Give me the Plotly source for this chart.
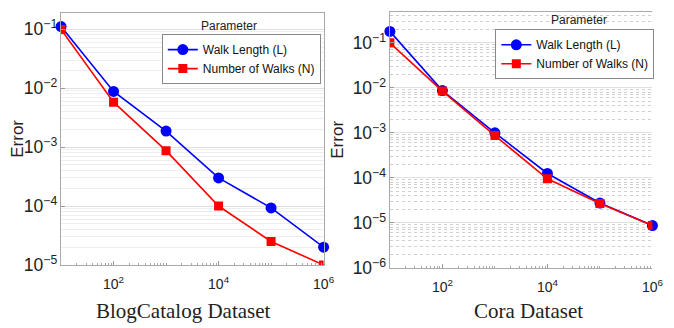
import plotly.graph_objects as go

# ---- data ----
x_vals = [10, 100, 1000, 10000, 100000, 1000000]
blog_walk_length = [0.111, 0.0088, 0.00187, 0.0003, 0.000093, 0.00002]
blog_num_walks = [0.099, 0.0058, 0.00087, 0.0001, 0.000025, 0.00001]
cora_walk_length = [0.18, 0.0087, 0.00100, 0.000125, 0.0000275, 0.0000087]
cora_num_walks = [0.10, 0.0085, 0.00087, 0.000095, 0.000027, 0.0000087]
x_tickvals = [100, 10000, 1000000]
x_ticktext = ["10<sup>2</sup>", "10<sup>4</sup>", "10<sup>6</sup>"]
panel_titles = ["BlogCatalog Dataset", "Cora Dataset"]
series_names = ["Walk Length (L)", "Number of Walks (N)"]

BLUE = "#0000ff"
RED = "#ff0000"

fig = go.Figure()

def add_pair(xa, ya, wl, nw, legend):
    fig.add_trace(go.Scatter(x=x_vals, y=wl, mode="lines+markers", name=series_names[0],
                             line=dict(color=BLUE, width=1.6),
                             marker=dict(symbol="circle", size=11, color=BLUE),
                             xaxis=xa, yaxis=ya, legend=legend, cliponaxis=False))
    fig.add_trace(go.Scatter(x=x_vals, y=nw, mode="lines+markers", name=series_names[1],
                             line=dict(color=RED, width=1.6),
                             marker=dict(symbol="square", size=9, color=RED),
                             xaxis=xa, yaxis=ya, legend=legend, cliponaxis=True))

add_pair("x", "y", blog_walk_length, blog_num_walks, "legend")
add_pair("x2", "y2", cora_walk_length, cora_num_walks, "legend2")

FONT = "Liberation Sans, Arial"
tickfont = dict(family=FONT, size=14, color="#222222")
common_x = dict(type="log", tickvals=x_tickvals, ticktext=x_ticktext, tickfont=tickfont,
                showgrid=False, zeroline=False, ticks="inside", ticklen=4, tickcolor="#999999",
                ticklabelstandoff=6, ticklabeloverflow="allow",
                minor=dict(dtick="D1", ticks="inside", ticklen=2, tickcolor="#aaaaaa"),
                showline=True, linecolor="#aaaaaa")
common_y = dict(type="log", dtick=1, exponentformat="power", tickfont=tickfont,
                showgrid=True, gridcolor="#e0e0e0", gridwidth=1, zeroline=False,
                ticks="inside", ticklen=4, tickcolor="#999999",
                showline=True, linecolor="#aaaaaa",
                title=dict(text="Error", font=dict(family=FONT, size=17, color="#222222"), standoff=4))

fig.update_layout(
    width=674, height=328,
    margin=dict(l=0, r=0, t=0, b=0),
    plot_bgcolor="white", paper_bgcolor="white",
    xaxis=dict(domain=[0.080, 0.476], range=[1, 6], anchor="y", mirror=True, **common_x),
    yaxis=dict(domain=[0.192, 0.985], range=[-5, -0.72], anchor="x", mirror=True,
               minor=dict(dtick="D1", showgrid=True, gridcolor="#eeeeee", gridwidth=1), **common_y),
    xaxis2=dict(domain=[0.576, 0.972], range=[1, 6], anchor="y2", mirror=True, **common_x),
    yaxis2=dict(domain=[0.183, 0.988], range=[-6, -0.31], anchor="x2",
                minor=dict(dtick="D1", showgrid=True, gridcolor="#d0d0d0", gridwidth=1, griddash="dot"), **common_y),
    legend=dict(x=0.232, y=0.918, xanchor="left", yanchor="top", bgcolor="white",
                bordercolor="#888888", borderwidth=1, tracegroupgap=0,
                font=dict(family=FONT, size=12, color="#111111"), itemwidth=30),
    legend2=dict(x=0.735, y=0.933, xanchor="left", yanchor="top", bgcolor="white",
                 bordercolor="#888888", borderwidth=1, tracegroupgap=0,
                 font=dict(family=FONT, size=12, color="#111111"), itemwidth=30),
    annotations=[
        dict(text="Parameter", x=0.334, y=0.942, xref="paper", yref="paper", showarrow=False,
             xanchor="center", yanchor="middle",
             font=dict(family=FONT, size=12, color="#222222")),
        dict(text="Parameter", x=0.861, y=0.962, xref="paper", yref="paper", showarrow=False,
             xanchor="center", yanchor="middle",
             font=dict(family=FONT, size=12, color="#222222")),
        dict(text=panel_titles[0], x=0.265, y=0.046, xref="paper", yref="paper", showarrow=False,
             xanchor="center", yanchor="middle",
             font=dict(family="Liberation Serif, Times New Roman", size=21, color="#222222")),
        dict(text=panel_titles[1], x=0.785, y=0.046, xref="paper", yref="paper", showarrow=False,
             xanchor="center", yanchor="middle",
             font=dict(family="Liberation Serif, Times New Roman", size=21, color="#222222")),
    ],
)

fig.write_html("out.html")
